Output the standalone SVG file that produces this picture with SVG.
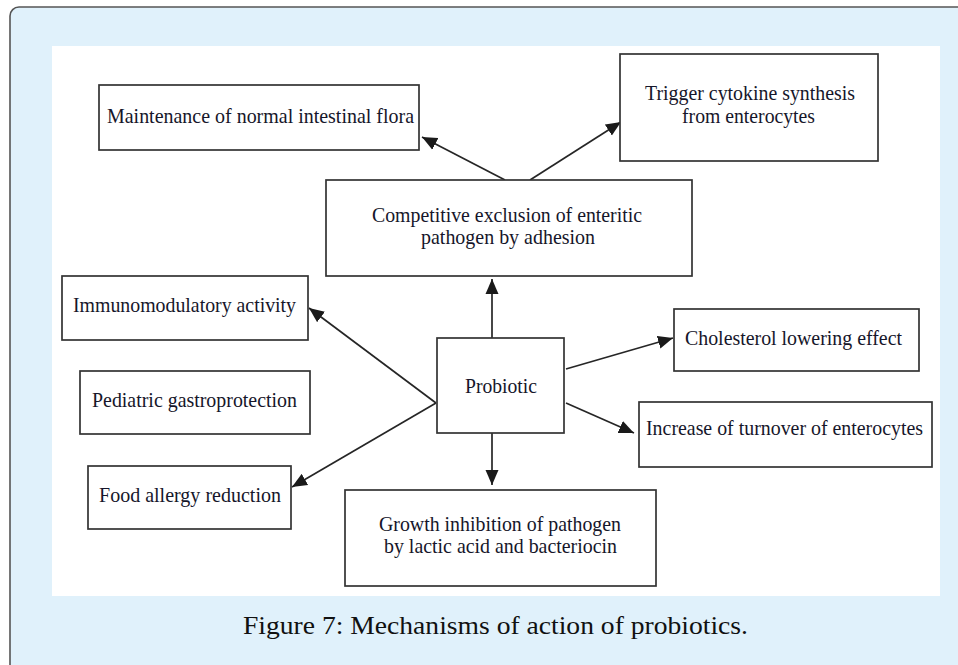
<svg xmlns="http://www.w3.org/2000/svg" width="958" height="665" viewBox="0 0 958 665">
<style>
.box{fill:#fff;stroke:#333;stroke-width:1.7}
.t{font-family:"Liberation Serif","Times New Roman",serif;font-size:21px;fill:#16162a}
.cap{font-family:"Liberation Serif","Times New Roman",serif;font-size:26px;fill:#111}
.c{stroke:#262626;stroke-width:1.7;fill:none;marker-end:url(#ah)}
</style>
<defs>
<marker id="ah" markerUnits="userSpaceOnUse" markerWidth="16" markerHeight="14" viewBox="0 0 16 14" refX="15" refY="7" orient="auto">
<path d="M0,0.5 L15,7 L0,13.5 Z" fill="#1a1a1a"/>
</marker>
</defs>
<rect x="10" y="7" width="970" height="680" rx="9" fill="#E0F1FB" stroke="#555" stroke-width="1.6"/>
<rect x="52" y="46" width="888" height="550" fill="#fff"/>
<g id="connectors">
<line class="c" x1="505" y1="180" x2="422" y2="137"/>
<line class="c" x1="530" y1="180" x2="621" y2="122"/>
<line class="c" x1="492" y1="338" x2="492" y2="279"/>
<line class="c" x1="492" y1="433" x2="492" y2="485"/>
<line class="c" x1="566" y1="369" x2="673" y2="338"/>
<line class="c" x1="566" y1="403" x2="634" y2="433"/>
<line class="c" x1="436" y1="403" x2="309" y2="308"/>
<line class="c" x1="436" y1="403" x2="292" y2="487"/>
</g>
<g id="maintenance">
<rect class="box" x="99" y="85" width="320" height="65"/>
<text class="t" x="107" y="123" textLength="307" lengthAdjust="spacingAndGlyphs">Maintenance of normal intestinal flora</text>
</g>
<g id="trigger">
<rect class="box" x="620" y="54" width="258" height="107"/>
<text class="t" x="645" y="100" textLength="210" lengthAdjust="spacingAndGlyphs">Trigger cytokine synthesis</text>
<text class="t" x="682" y="123" textLength="133" lengthAdjust="spacingAndGlyphs">from enterocytes</text>
</g>
<g id="competitive">
<rect class="box" x="326" y="180" width="366" height="96"/>
<text class="t" x="372" y="222" textLength="270" lengthAdjust="spacingAndGlyphs">Competitive exclusion of enteritic</text>
<text class="t" x="421" y="244" textLength="174" lengthAdjust="spacingAndGlyphs">pathogen by adhesion</text>
</g>
<g id="immuno">
<rect class="box" x="62" y="276" width="246" height="64"/>
<text class="t" x="73" y="312" textLength="223" lengthAdjust="spacingAndGlyphs">Immunomodulatory activity</text>
</g>
<g id="probiotic">
<rect class="box" x="437" y="338" width="127" height="95"/>
<text class="t" x="465" y="393" textLength="72" lengthAdjust="spacingAndGlyphs">Probiotic</text>
</g>
<g id="pediatric">
<rect class="box" x="80" y="371" width="230" height="63"/>
<text class="t" x="92" y="407" textLength="205" lengthAdjust="spacingAndGlyphs">Pediatric gastroprotection</text>
</g>
<g id="food">
<rect class="box" x="88" y="466" width="203" height="63"/>
<text class="t" x="99" y="502" textLength="182" lengthAdjust="spacingAndGlyphs">Food allergy reduction</text>
</g>
<g id="growth">
<rect class="box" x="345" y="490" width="311" height="96"/>
<text class="t" x="379" y="531" textLength="242" lengthAdjust="spacingAndGlyphs">Growth inhibition of pathogen</text>
<text class="t" x="384" y="553" textLength="233" lengthAdjust="spacingAndGlyphs">by lactic acid and bacteriocin</text>
</g>
<g id="cholesterol">
<rect class="box" x="674" y="309" width="245" height="62"/>
<text class="t" x="685" y="345" textLength="217" lengthAdjust="spacingAndGlyphs">Cholesterol lowering effect</text>
</g>
<g id="increase">
<rect class="box" x="639" y="402" width="293" height="65"/>
<text class="t" x="646" y="435" textLength="277" lengthAdjust="spacingAndGlyphs">Increase of turnover of enterocytes</text>
</g>
<text class="cap" x="243" y="634" textLength="505" lengthAdjust="spacingAndGlyphs">Figure 7: Mechanisms of action of probiotics.</text>
</svg>
